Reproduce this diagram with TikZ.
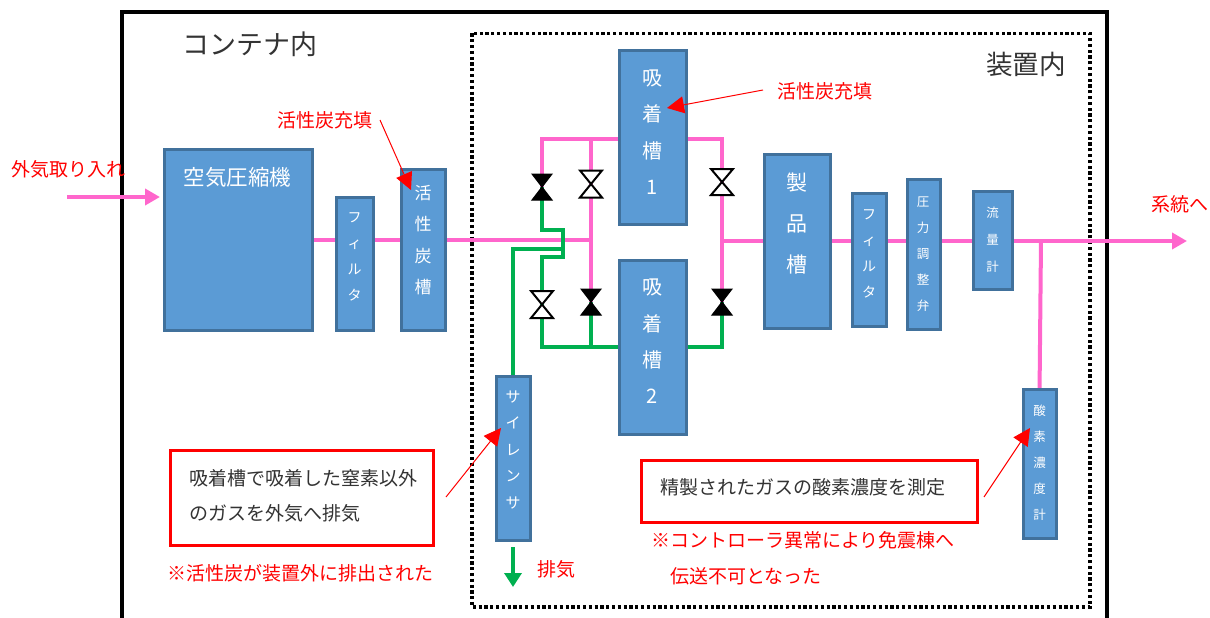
\documentclass[tikz,border=0pt]{standalone}
\usepackage{fontspec}
\setmainfont{Noto Sans CJK JP}
\usetikzlibrary{arrows.meta,calc}
\newcommand\fs[2]{\fontsize{#1}{#2}\selectfont}
\definecolor{boxfill}{HTML}{5B9BD5}
\definecolor{boxline}{HTML}{41719C}
\definecolor{pipepink}{HTML}{FF66CC}
\definecolor{pipegreen}{HTML}{00B050}
\definecolor{inkgray}{HTML}{333333}
\tikzset{
  unit/.style={inner sep=0pt,outer sep=0pt,anchor=north west},
  unittext/.style={text=white,align=center,inner sep=0pt},
  pink/.style={draw=pipepink,line width=4pt},
  green/.style={draw=pipegreen,line width=4pt},
  pinkflow/.style={pink,-{Triangle[length=15pt,width=16pt]},shorten >=0pt},
  greenflow/.style={green,-{Triangle[length=14pt,width=17pt]}},
  pointer/.style={draw=red,line width=1pt,-{Triangle[length=17pt,width=17pt]}},
  note/.style={draw=red,line width=3pt,fill=white,anchor=north west,inner sep=0pt,outer sep=0pt},
  redtext/.style={text=red,inner sep=0pt,font=\fs{19}{23}},
  graytext/.style={text=inkgray,inner sep=0pt,font=\fs{19}{35},align=left},
  valveslot/.style={minimum width=#1,minimum height=26pt,inner sep=0pt,outer sep=0pt},
  bowwhite/.style={draw=black,line width=2pt,fill=white,line join=miter},
  bowblack/.style={draw=black,line width=1pt,fill=black,line join=miter}
}
\newcommand\bow[2]{\path[#2] (#1.north west) -- (#1.north east) -- (#1.south west) -- (#1.south east) -- cycle;}
\begin{document}
\begin{tikzpicture}[x=1pt,y=-1pt]
\useasboundingbox (0,0) rectangle (1210,618);
% frames
\draw[line width=4pt,line join=miter] (121.5,625) -- (121.5,12) -- (1107,12) -- (1107,625);
\draw[line width=3.2pt,dash pattern=on 3.2pt off 2.6pt] (472,33.5) rectangle (1090,607);
% unit outlines: named first, painted after the pipes
\path
  (164,149) node[minimum width=148pt,minimum height=181pt,unit] (comp) {}
  (336,197) node[minimum width=37pt,minimum height=133pt,unit] (filt1) {}
  (401,169) node[minimum width=44pt,minimum height=161pt,unit] (carbon) {}
  (619,51) node[minimum width=67pt,minimum height=173pt,unit] (ads1) {}
  (619,260) node[minimum width=67pt,minimum height=174pt,unit] (ads2) {}
  (764,154) node[minimum width=66pt,minimum height=174pt,unit] (prod) {}
  (852,193) node[minimum width=34pt,minimum height=133pt,unit] (filt2) {}
  (907,179) node[minimum width=33pt,minimum height=150pt,unit] (reg) {}
  (973,191) node[minimum width=39pt,minimum height=98pt,unit] (flow) {}
  (1023,389) node[minimum width=33pt,minimum height=149pt,unit] (oxy) {}
  (496,376) node[minimum width=34pt,minimum height=164pt,unit] (sil) {};
% valves
\node[valveslot=20pt] (vA) at (542,187) {};
\node[valveslot=22pt,minimum height=27pt] (vB) at (591,184) {};
\node[valveslot=22pt] (vC) at (722,182) {};
\node[valveslot=22pt,minimum height=27pt] (vD) at (542,304.5) {};
\node[valveslot=20pt] (vE) at (591,302) {};
\node[valveslot=20pt] (vF) at (722,302) {};
% junctions
\coordinate (topL) at (542,139);
\coordinate (topM) at (591,139);
\coordinate (topR) at (722,139);
\coordinate (midM) at (591,240);
\coordinate (midR) at (722,241);
\coordinate (botL) at (542,347);
\coordinate (botM) at (591,347);
\coordinate (botR) at (722,347);
\coordinate (xU) at (542,230);
\coordinate (xUR) at (563,230);
\coordinate (xDR) at (563,257);
\coordinate (xD) at (542,257);
\coordinate (xS) at (563,249);
\coordinate (xSL) at (513,249);
\coordinate (inStart) at (67,197);
\coordinate (inEnd) at (160,197);
\coordinate (outEnd) at (1187,241);
\coordinate (tap) at (1041,241);
\coordinate (exS) at (513,547);
\coordinate (exE) at (513,587);
% pink pipes
\draw[pinkflow] (inStart) -- (inEnd);
\draw[pink] (comp.center |- 0,240) -- (midM);
\draw[pink,line join=miter] (vA.center) -- (topL) -- (ads1.center |- topL);
\draw[pink] (vE.center) -- (topM);
\draw[pink,line join=miter] (ads1.center |- topR) -- (topR) -- (vF.center);
\draw[pink] (midR) -- (prod.center |- midR);
\draw[pinkflow] (prod.center |- outEnd) -- (outEnd);
\draw[pink] (tap) -- (oxy.center |- 0,395);
% green pipes
\draw[green,line join=miter] (vA.center) -- (xU) -- (xUR) -- (xDR) -- (xD) -- (vD.center);
\draw[green,line join=miter] (xS) -- (xSL) -- (sil.north -| xSL);
\draw[green,line join=miter] (vD.center) -- (botL) -- (ads2.center |- botL);
\draw[green] (vE.center) -- (botM);
\draw[green,line join=miter] (ads2.center |- botR) -- (botR) -- (vF.center);
\draw[greenflow] (exS) -- (exE);
% valve bodies
\bow{vA}{bowblack}
\bow{vB}{bowwhite}
\bow{vC}{bowwhite}
\bow{vD}{bowwhite}
\bow{vE}{bowblack}
\bow{vF}{bowblack}
% unit bodies
\foreach \u in {comp,filt1,carbon,ads1,ads2,prod,filt2,reg,flow,oxy,sil}{
  \path[draw=boxline,fill=boxfill,line width=3pt] (\u.north west) rectangle (\u.south east);
}
% unit labels
\node[unittext,font=\fs{21.5}{26}] (tComp) at (237.5,177) {空気圧縮機};
\node[unittext,font=\fs{14}{26}] (tFilt1) at (354.5,257) {フ\\ィ\\ル\\タ};
\node[unittext,font=\fs{17}{31.3}] (tCarbon) at (423,240) {活\\性\\炭\\槽};
\node[unittext,font=\fs{20}{36.3}] (tAds1) at (652.5,132) {吸\\着\\槽\\1};
\node[unittext,font=\fs{20}{36.3}] (tAds2) at (652.5,341.5) {吸\\着\\槽\\2};
\node[unittext,font=\fs{21}{41}] (tProd) at (796.5,224) {製\\品\\槽};
\node[unittext,font=\fs{14}{26}] (tFilt2) at (869,254) {フ\\ィ\\ル\\タ};
\node[unittext,font=\fs{12.5}{26}] (tReg) at (923,254) {圧\\力\\調\\整\\弁};
\node[unittext,font=\fs{12.5}{27}] (tFlow) at (992.5,240) {流\\量\\計};
\node[unittext,font=\fs{12.5}{26}] (tOxy) at (1039.5,463) {酸\\素\\濃\\度\\計};
\node[unittext,font=\fs{15}{26.5}] (tSil) at (513,450) {サ\\イ\\レ\\ン\\サ};
% notes
\node[note,minimum width=263pt,minimum height=95pt] (noteA) at (170,450) {};
\node[note,minimum width=336pt,minimum height=62pt] (noteB) at (641,460) {};
\node[graytext,anchor=west] (tNoteA) at (189.5,495.5) {吸着槽で吸着した窒素以外\\のガスを外気へ排気};
\node[graytext,anchor=west] (tNoteB) at (660.5,487) {精製されたガスの酸素濃度を測定};
% free labels
\node[text=inkgray,inner sep=0pt,font=\fs{27}{30}] (tCont) at (250,44) {コンテナ内};
\node[text=inkgray,inner sep=0pt,font=\fs{26.6}{30}] (tInner) at (1026,64) {装置内};
\node[redtext] (tIn) at (68.5,169) {外気取り入れ};
\node[redtext] (tC1) at (324.5,120) {活性炭充填};
\node[redtext] (tC2) at (824.5,91) {活性炭充填};
\node[redtext] (tOut) at (1180,204) {系統へ};
\node[text=red,inner sep=0pt,font=\fs{19}{23}] (tEx) at (556,569) {排気};
\node[redtext] (tW1) at (300.5,573) {※活性炭が装置外に排出された};
\node[redtext,anchor=west] (tW2) at (651,540) {※コントローラ異常により免震棟へ};
\node[redtext,anchor=west] (tW3) at (670,576) {伝送不可となった};
% pointers
\coordinate (p1s) at (380,120);
\coordinate (p2s) at (763,90);
\coordinate (p3s) at (446,497);
\coordinate (p4s) at (984,497);
\coordinate (p1e) at (411,190);
\coordinate (p2e) at (667,108);
\coordinate (p3e) at (501,428);
\coordinate (p4e) at (1030,428);
\draw[pointer] (p1s) -- (p1e);
\draw[pointer] (p2s) -- (p2e);
\draw[pointer] (p3s) -- (p3e);
\draw[pointer] (p4s) -- (p4e);
\end{tikzpicture}
\end{document}
